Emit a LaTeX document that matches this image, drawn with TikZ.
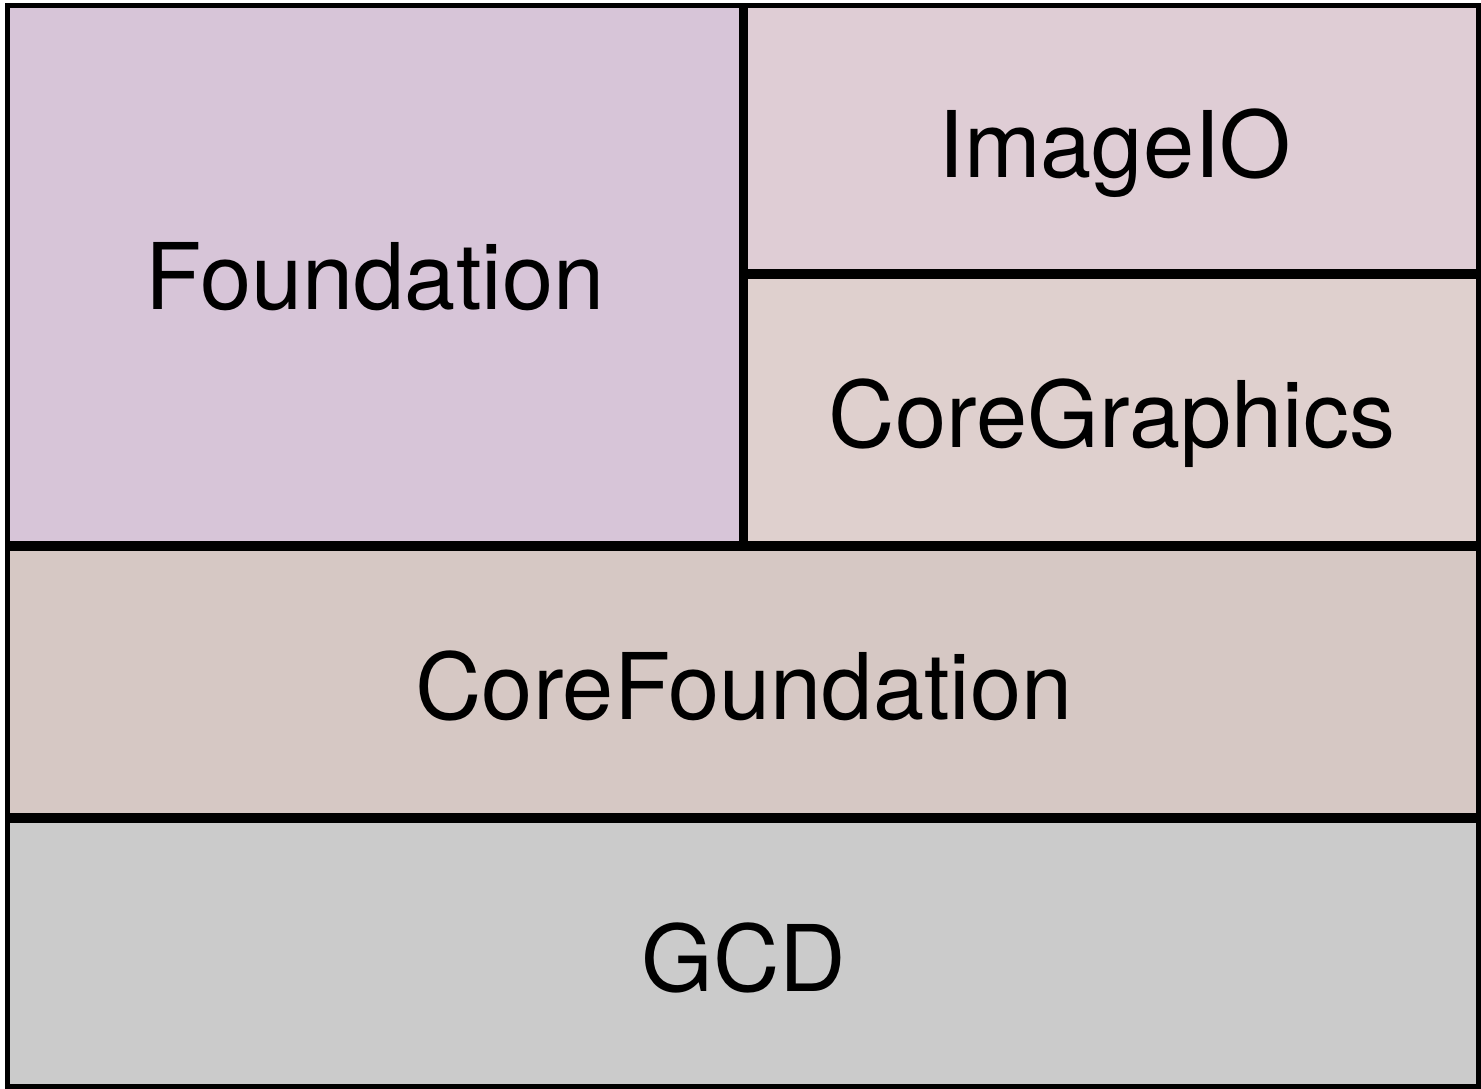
\documentclass[tikz,border=0pt]{standalone}
\usepackage{fontspec}
\setmainfont{TeX Gyre Heros}
\definecolor{cFound}{RGB}{215,197,216}
\definecolor{cImage}{RGB}{223,205,213}
\definecolor{cGraph}{RGB}{223,208,206}
\definecolor{cCoreF}{RGB}{214,200,196}
\definecolor{cGCD}{RGB}{203,203,203}
\tikzset{
  layer/.style={draw=black, line width=5pt},
  lbl/.style={anchor=base, inner sep=0pt, font=\fontsize{92}{100}\selectfont, text=black}
}
\begin{document}
\begin{tikzpicture}[x=1pt,y=-1pt]
\useasboundingbox (0,0) rectangle (1481,1088);
\fill[white] (0,0) rectangle (1481,1088);
% boxes
\draw[layer, fill=cFound] (7.5,5.5) rectangle (741,543.5);
\draw[layer, fill=cImage] (745.5,5.5) rectangle (1478.5,271.5);
\draw[layer, fill=cGraph] (745.5,276) rectangle (1478.5,543.5);
\draw[layer, fill=cCoreF] (7.5,548) rectangle (1478.5,815.5);
\draw[layer, fill=cGCD] (7.5,820) rectangle (1478.5,1086);
% labels
\node[lbl] (foundation) at (375,309) {Foundation};
\node[lbl] (imageio) at (1115,177) {ImageIO};
\node[lbl] (coregraphics) at (1112,447) {CoreGraphics};
\node[lbl] (corefoundation) at (744,719) {CoreFoundation};
\node[lbl] (gcd) at (744,991) {GCD};
\end{tikzpicture}
\end{document}
